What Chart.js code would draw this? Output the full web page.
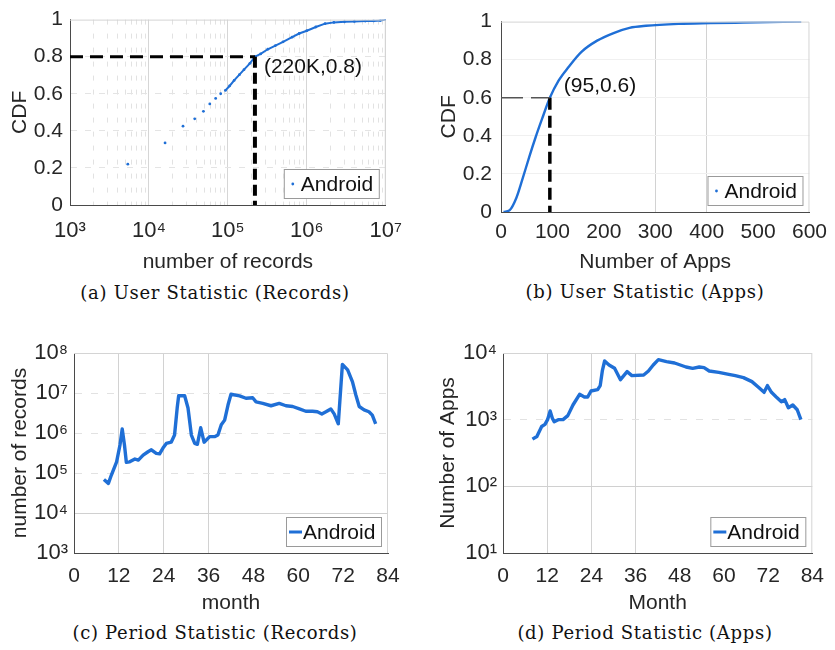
<!DOCTYPE html>
<html>
<head>
<meta charset="utf-8">
<script src="https://cdn.jsdelivr.net/npm/chart.js@4.4.0/dist/chart.umd.min.js"></script>
<style>
  body { margin: 0; background: #fff; width: 835px; height: 650px; position: relative; overflow: hidden; }
  .panel { position: absolute; }
  .cap { position: absolute; font-family: "DejaVu Serif", serif; font-size: 18px; letter-spacing: 0.7px; color: #111;
         white-space: nowrap; transform: translate(-50%, -50%); }
</style>
</head>
<body>
<div class="panel" style="left:0;top:0;width:415px;height:275px"><canvas id="chartA"></canvas></div>
<div class="panel" style="left:420px;top:0;width:415px;height:275px"><canvas id="chartB"></canvas></div>
<div class="panel" style="left:0;top:325px;width:415px;height:291px"><canvas id="chartC"></canvas></div>
<div class="panel" style="left:420px;top:325px;width:415px;height:291px"><canvas id="chartD"></canvas></div>
<div class="cap" style="left:215px;top:292px">(a) User Statistic (Records)</div>
<div class="cap" style="left:645px;top:291px">(b) User Statistic (Apps)</div>
<div class="cap" style="left:215px;top:632px">(c) Period Statistic (Records)</div>
<div class="cap" style="left:645px;top:632px">(d) Period Statistic (Apps)</div>
<script>
// (a) CDF of records per user
const userRecords = [5.4e3, 1.6e4, 2.7e4, 3.8e4, 4.9e4, 5.9e4, 7e4, 8.1e4, 9.3e4, 1.05e5, 1.2e5, 1.4e5, 1.6e5, 1.9e5,
  2.2e5, 2.6e5, 3.2e5, 4e5, 5e5, 6.5e5, 8e5, 1e6, 1.3e6, 1.7e6, 2.2e6, 3e6, 4e6, 5.5e6, 7e6, 8.5e6, 1e7];
const userRecordsCdf = [0.22, 0.335, 0.425, 0.465, 0.505, 0.545, 0.575, 0.6, 0.618, 0.642, 0.672, 0.703, 0.73, 0.764,
  0.8, 0.815, 0.84, 0.86, 0.88, 0.905, 0.925, 0.94, 0.96, 0.978, 0.985, 0.988, 0.99, 0.992, 0.993, 0.995, 1.0];
const markRecords = [2.2e5, 0.8];   // (220K,0.8)

// (b) CDF of apps per user
const userApps = [5, 17, 30, 42, 55, 67, 80, 95, 112, 131, 156, 187, 219, 250, 282, 345, 408, 471, 584];
const userAppsCdf = [0, 0.01, 0.075, 0.175, 0.29, 0.39, 0.49, 0.6, 0.69, 0.76, 0.84, 0.9, 0.94, 0.967, 0.978, 0.988, 0.992, 0.995, 1.0];
const markApps = [95, 0.6];         // (95,0.6)

// (c) records per month
const recMonths = [8.0, 9.2, 10.0, 11.4, 12.3, 12.9, 13.5, 14.0, 14.9, 16.3, 17.2, 18.5, 19.8, 20.7, 22.0, 22.9, 23.8, 24.7,
  26.0, 26.9, 27.6, 28.0, 29.6, 30.5, 31.4, 32.3, 33.0, 33.9, 34.8, 36.3, 37.6, 38.5, 39.4, 40.3, 41.2, 42.0, 44.3, 46.0,
  47.8, 48.7, 50.5, 52.7, 54.9, 56.7, 58.5, 60.3, 62.0, 63.8, 65.1, 66.3, 67.4, 68.7, 69.6, 70.7, 71.8, 73.2, 74.5, 75.4,
  76.3, 77.6, 78.9, 79.8, 80.7];
const recPerMonth = [6.9e4, 5.5e4, 8.9e4, 1.9e5, 5.0e5, 1.26e6, 5.0e5, 1.86e5, 1.9e5, 2.24e5, 2.1e5, 2.8e5, 3.4e5, 3.8e5,
  3.1e5, 3.0e5, 4.2e5, 5.5e5, 5.9e5, 8.9e5, 4.2e6, 8.5e6, 8.5e6, 4.2e6, 8.9e5, 5.5e5, 5.2e5, 1.35e6, 5.9e5, 8.1e5,
  8.1e5, 8.9e5, 1.6e6, 2.1e6, 5.0e6, 9.3e6, 8.5e6, 7.4e6, 7.6e6, 6.0e6, 5.5e6, 4.8e6, 5.5e6, 4.8e6, 4.6e6, 4.0e6,
  3.5e6, 3.5e6, 3.4e6, 3.0e6, 3.4e6, 4.0e6, 3.0e6, 1.7e6, 5.2e7, 3.8e7, 1.9e7, 8.9e6, 4.6e6, 3.8e6, 3.4e6, 2.8e6, 1.7e6];

// (d) apps per month
const appMonths = [8.0, 9.2, 10.5, 11.4, 12.1, 12.8, 13.4, 13.9, 15.0, 16.3, 17.6, 19.0, 20.8, 22.1, 23.0, 23.9, 25.7,
  26.4, 27.0, 27.6, 28.8, 30.3, 31.9, 33.7, 35.0, 38.2, 39.5, 40.8, 42.2, 44.4, 46.6, 49.7, 51.5, 53.3, 54.6, 56.0, 58.6,
  61.3, 63.1, 65.3, 67.6, 69.3, 70.9, 71.8, 72.9, 74.2, 75.6, 76.5, 77.5, 78.7, 79.9, 80.9];
const appsPerMonth = [510, 560, 790, 850, 1000, 1350, 1050, 930, 1000, 1000, 1150, 1660, 2400, 2190, 2190, 2690, 2820,
  3240, 5500, 7590, 6610, 5890, 3980, 5250, 4570, 4680, 5370, 6610, 7940, 7410, 7080, 6170, 5890, 6170, 6030, 5370, 5130,
  4790, 4570, 4270, 3720, 3090, 2570, 3240, 2570, 2190, 1860, 2000, 1510, 1660, 1410, 1000];

const monthTicks = [0, 12, 24, 36, 48, 60, 72, 84];
const appTicks = [0, 100, 200, 300, 400, 500, 600];
const cdfTicks = [0, 0.2, 0.4, 0.6, 0.8, 1];

const BLUE = '#1f6fd6';
const TXT = '#262626';
const FONT = '"Liberation Sans", Arial, sans-serif';
const SUP = { '0': '⁰', '1': '¹', '2': '²', '3': '³', '4': '⁴', '5': '⁵', '6': '⁶', '7': '⁷', '8': '⁸', '9': '⁹' };

const pts = (xs, ys) => xs.map((x, i) => ({ x: x, y: ys[i] }));

function isDecade(v) {
  const e = Math.round(Math.log10(v));
  return Math.abs(v - Math.pow(10, e)) < v * 1e-6;
}
function powLabel(v) {
  return isDecade(v) ? '10' + SUP[Math.round(Math.log10(v))] : '';
}
// decade ticks, optionally with the 2..9 minor ones
function logTicks(lo, hi, minor) {
  const t = [];
  for (let e = lo; e <= hi; e++) {
    t.push({ value: Math.pow(10, e) });
    if (minor && e < hi) for (let m = 2; m <= 9; m++) t.push({ value: m * Math.pow(10, e) });
  }
  return t;
}

// light box, annotation text and the small legend inside the plot
const extras = {
  id: 'extras',
  afterDatasetsDraw(chart, args, opts) {
    const { ctx, chartArea: a } = chart;
    ctx.save();
    ctx.strokeStyle = '#d4d4d4';
    ctx.lineWidth = 1;
    ctx.beginPath();
    ctx.moveTo(a.left, a.top + 0.5);
    ctx.lineTo(a.right - 0.5, a.top + 0.5);
    ctx.lineTo(a.right - 0.5, a.bottom);
    ctx.stroke();

    if (opts.note) {
      const x = chart.scales.x.getPixelForValue(opts.note.at[0]) + opts.note.dx;
      const y = chart.scales.y.getPixelForValue(opts.note.at[1]) + opts.note.dy;
      ctx.font = '21px ' + FONT;
      ctx.fillStyle = '#111';
      ctx.textBaseline = 'middle';
      ctx.fillText(opts.note.text, x, y);
    }

    const w = 96, h = 30;
    const lx = a.right - 6 - w, ly = a.bottom - 6 - h;
    ctx.fillStyle = '#fff';
    ctx.fillRect(lx, ly, w, h);
    ctx.strokeStyle = '#9a9a9a';
    ctx.strokeRect(lx + 0.5, ly + 0.5, w - 1, h - 1);
    ctx.fillStyle = BLUE;
    ctx.strokeStyle = BLUE;
    if (opts.marker === 'line') {
      ctx.lineWidth = 3;
      ctx.beginPath();
      ctx.moveTo(lx + 3, ly + h / 2);
      ctx.lineTo(lx + 16, ly + h / 2);
      ctx.stroke();
    } else {
      ctx.beginPath();
      ctx.arc(lx + 9, ly + h / 2, 1.4, 0, Math.PI * 2);
      ctx.fill();
    }
    ctx.font = '21px ' + FONT;
    ctx.fillStyle = '#111';
    ctx.textBaseline = 'middle';
    ctx.fillText(chart.data.datasets[0].label, lx + 17, ly + h / 2 + 1);
    ctx.restore();
  }
};

function axisTitle(text, padTop) {
  return { display: true, text: text, color: TXT, font: { family: FONT, size: 21 }, padding: { top: padTop, bottom: 0 } };
}

// p: yWidth, xHeight, top, right, x/y scale parts
function makeOptions(p) {
  return {
    responsive: true,
    maintainAspectRatio: false,
    animation: false,
    events: [],
    layout: { padding: { left: 0, bottom: 0, top: p.top, right: p.right } },
    plugins: { legend: { display: false }, tooltip: { enabled: false }, extras: p.extras },
    scales: {
      x: Object.assign({
        afterFit: s => { s.height = p.xHeight; },
        border: { color: '#4a4a4a', width: 1 },
        ticks: Object.assign({ color: TXT, font: { family: FONT, size: 21 }, autoSkip: false, maxRotation: 0 }, p.xTicks)
      }, p.x),
      y: Object.assign({
        afterFit: s => { s.width = p.yWidth; },
        border: { color: '#4a4a4a', width: 1 },
        ticks: Object.assign({ color: TXT, font: { family: FONT, size: 21 }, autoSkip: false }, p.yTicks)
      }, p.y)
    }
  };
}

const cdfY = (titlePad) => ({
  type: 'linear', min: 0, max: 1,
  afterBuildTicks: s => { s.ticks = cdfTicks.map(v => ({ value: v })); },
  title: axisTitle('CDF', titlePad),
  grid: { drawTicks: false, color: c => (c.tick && c.tick.value > 0 && c.tick.value < 1) ? '#e4e4e4' : 'rgba(0,0,0,0)' }
});

// ---- (a)
const optA = makeOptions({
  yWidth: 70, xHeight: 70, top: 12, right: 27,
  extras: { note: { text: '(220K,0.8)', at: markRecords, dx: 9, dy: 11 }, marker: 'dot' },
  xTicks: { padding: 13, callback: v => powLabel(v), font: { family: FONT, size: 22 } },
  yTicks: { padding: 7, callback: v => String(+v.toFixed(1)) },
  x: {
    type: 'logarithmic', min: 1e3, max: 1e7,
    afterBuildTicks: s => { s.ticks = logTicks(3, 7, true); },
    title: axisTitle('number of records', 0),
    grid: { drawTicks: false, color: c => c.tick ? (isDecade(c.tick.value) ? '#d6d6d6' : '#e2e2e2') : '#d6d6d6' },
    border: { color: '#4a4a4a', width: 1, dash: c => (c.tick && !isDecade(c.tick.value)) ? [5, 9] : [] }
  },
  y: Object.assign(cdfY(8), { border: { color: '#4a4a4a', width: 1, dash: [6, 8] } })
});

new Chart(document.getElementById('chartA'), {
  type: 'scatter',
  data: {
    datasets: [
      {
        label: 'Android', data: pts(userRecords, userRecordsCdf), order: 1,
        showLine: true, borderWidth: 2, borderColor: BLUE,
        segment: { borderColor: c => c.p0.parsed.x < 9e4 ? 'rgba(0,0,0,0)' : BLUE },
        pointRadius: 1.4, pointBorderWidth: 0, pointBackgroundColor: BLUE
      },
      {
        label: '', data: [{ x: 1e3, y: markRecords[1] }, { x: markRecords[0], y: markRecords[1] }], order: 0,
        showLine: true, borderColor: '#000', borderWidth: 3, borderDash: [13, 7], pointRadius: 0
      },
      {
        label: '', data: [{ x: markRecords[0], y: markRecords[1] }, { x: markRecords[0], y: 0 }], order: 0,
        showLine: true, borderColor: '#000', borderWidth: 4, borderDash: [11, 5], pointRadius: 0
      }
    ]
  },
  options: optA,
  plugins: [extras]
});

// ---- (b)
const optB = makeOptions({
  yWidth: 81, xHeight: 63, top: 12, right: 18,
  extras: { note: { text: '(95,0.6)', at: markApps, dx: 14, dy: -12 }, marker: 'dot' },
  xTicks: { padding: 8 },
  yTicks: { padding: 9, callback: v => String(+v.toFixed(1)) },
  x: {
    type: 'linear', min: 0, max: 600,
    afterBuildTicks: s => { s.ticks = appTicks.map(v => ({ value: v })); },
    title: axisTitle('Number of Apps', 0),
    grid: { drawTicks: false, color: c => (c.tick && (c.tick.value === 300 || c.tick.value === 400)) ? '#d2d2d2' : 'rgba(0,0,0,0)' }
  },
  y: cdfY(17)
});
optB.scales.y.grid.color = c => (c.tick && c.tick.value > 0 && c.tick.value < 1) ? '#f0f0f0' : 'rgba(0,0,0,0)';

new Chart(document.getElementById('chartB'), {
  type: 'scatter',
  data: {
    datasets: [
      {
        label: 'Android', data: pts(userApps, userAppsCdf), order: 1,
        showLine: true, borderWidth: 2.4, borderColor: BLUE, cubicInterpolationMode: 'monotone', pointRadius: 0
      },
      {
        label: '', data: [{ x: 0, y: markApps[1] }, { x: markApps[0], y: markApps[1] }], order: 0,
        showLine: true, borderColor: '#555', borderWidth: 1.5, borderDash: [22, 8], pointRadius: 0
      },
      {
        label: '', data: [{ x: markApps[0], y: markApps[1] }, { x: markApps[0], y: 0 }], order: 0,
        showLine: true, borderColor: '#000', borderWidth: 3.5, borderDash: [12, 6], pointRadius: 0
      }
    ]
  },
  options: optB,
  plugins: [extras]
});

// ---- (c) and (d)
function monthOptions(yWidth, right, yTitle, xTitle, titlePad, lo, hi, solidAt) {
  return makeOptions({
    yWidth: yWidth, xHeight: 63, top: 28, right: right,
    extras: { marker: 'line' },
    xTicks: { padding: 11 },
    yTicks: { padding: 6, callback: v => powLabel(v), font: { family: FONT, size: 22 } },
    x: {
      type: 'linear', min: 0, max: 84,
      afterBuildTicks: s => { s.ticks = monthTicks.map(v => ({ value: v })); },
      title: axisTitle(xTitle, 0),
      grid: { drawTicks: false, color: c => (c.tick && c.tick.value > 0 && c.tick.value <= 36) ? '#d2d2d2' : 'rgba(0,0,0,0)' }
    },
    y: {
      type: 'logarithmic', min: Math.pow(10, lo), max: Math.pow(10, hi),
      afterBuildTicks: s => { s.ticks = logTicks(lo, hi, false); },
      title: axisTitle(yTitle, titlePad),
      grid: { drawTicks: false, color: c => !c.tick ? '#ddd' : (c.tick.value === solidAt ? '#d0d0d0' : '#e2e2e2') },
      border: { color: '#4a4a4a', width: 1, dash: c => (c.tick && c.tick.value !== solidAt) ? [7, 9] : [] }
    }
  });
}

new Chart(document.getElementById('chartC'), {
  type: 'scatter',
  data: {
    datasets: [{
      label: 'Android', data: pts(recMonths, recPerMonth),
      showLine: true, borderWidth: 3.4, borderColor: BLUE, pointRadius: 0, borderJoinStyle: 'round'
    }]
  },
  options: monthOptions(74, 27, 'number of records', 'month', 8, 3, 8, 1e4),
  plugins: [extras]
});

new Chart(document.getElementById('chartD'), {
  type: 'scatter',
  data: {
    datasets: [{
      label: 'Android', data: pts(appMonths, appsPerMonth),
      showLine: true, borderWidth: 3.4, borderColor: BLUE, pointRadius: 0, borderJoinStyle: 'round'
    }]
  },
  options: monthOptions(83, 17, 'Number of Apps', 'Month', 16, 1, 4, 100),
  plugins: [extras]
});
</script>
</body>
</html>
